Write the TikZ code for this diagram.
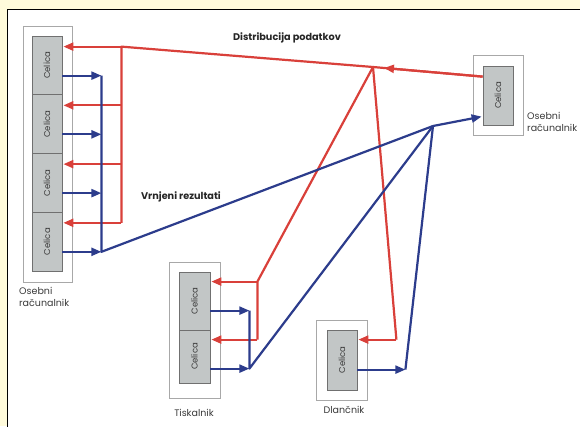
\documentclass[tikz,border=0pt]{standalone}
\usepackage{fontspec}
\setmainfont{Poppins}
\usetikzlibrary{arrows.meta,calc}
\definecolor{bgyellow}{HTML}{FFFBDB}
\definecolor{rcol}{HTML}{D9403A}
\definecolor{bcol}{HTML}{2C3C8C}
\definecolor{cellfill}{HTML}{C2C6C6}
\definecolor{celldraw}{HTML}{707070}
\definecolor{boxdraw}{HTML}{A8A8A8}
\definecolor{txt}{HTML}{3A3A3A}
\begin{document}
\begin{tikzpicture}[x=1pt,y=-1pt,
  outerbox/.style={draw=boxdraw,fill=white,line width=0.9pt,inner sep=0pt,minimum width=50},
  cellbox/.style={draw=celldraw,fill=cellfill,line width=0.8pt,inner sep=0pt,minimum width=30,
     font=\fontsize{8.5}{9}\selectfont,text=txt},
  rl/.style={draw=rcol,line width=2.2pt,line join=round},
  bl/.style={draw=bcol,line width=2.2pt,line join=round},
  tip/.style={-{Triangle[length=10pt,width=8pt]}},
  lbl/.style={font=\fontsize{9.5}{12}\selectfont,text=txt,align=left,inner sep=0pt},
  ttl/.style={font=\bfseries\fontsize{9.7}{11}\selectfont,text=black!85,inner sep=0pt}]
\fill[bgyellow] (0,0) rectangle (580,426);
\useasboundingbox (0,0) rectangle (580,426);
\begin{scope}
\clip (0,0) rectangle (580,426);
\fill[white] (7,9) rectangle (600,450);
\draw[black,line width=1pt] (7,450) -- (7,9) -- (600,9);
\end{scope}
% junctions
\coordinate (R) at (373,67);
\coordinate (B) at (433,126);
% left computer
\node[outerbox,minimum width=49,minimum height=256] (pcL) at (47.5,154) {};
\node[cellbox,minimum height=58.75] (L1) at (47,65.4) {\rotatebox{90}{Celica}};
\node[cellbox,minimum height=58.75] (L2) at (47,124.1) {\rotatebox{90}{Celica}};
\node[cellbox,minimum height=58.75] (L3) at (47,182.9) {\rotatebox{90}{Celica}};
\node[cellbox,minimum height=58.75] (L4) at (47,241.6) {\rotatebox{90}{Celica}};
% right computer
\node[outerbox,minimum width=50,minimum height=80] (pcR) at (498,95) {};
\node[cellbox,minimum height=59] (P) at (498,95.5) {\rotatebox{90}{Celica}};
% printer
\node[outerbox,minimum width=51,minimum height=136] (prn) at (194.5,330) {};
\node[cellbox,minimum width=31,minimum height=58] (T1) at (194.5,301) {\rotatebox{90}{Celica}};
\node[cellbox,minimum width=31,minimum height=53] (T2) at (194.5,356.5) {\rotatebox{90}{Celica}};
% handheld
\node[outerbox,minimum width=51,minimum height=80] (pda) at (341.5,360) {};
\node[cellbox,minimum height=60] (D) at (342,360) {\rotatebox{90}{Celica}};
% labels
\node[lbl,anchor=north west] (labL) at (19,287) {Osebni\\računalnik};
\node[lbl,anchor=north west] (labR) at (527,112) {Osebni\\računalnik};
\node[lbl] (labT) at (194,413) {Tiskalnik};
\node[lbl] (labD) at (344,410) {Dlančnik};
\node[ttl] (dist) at (287,38) {Distribucija podatkov};
\node[ttl] (vrn) at (181,197) {Vrnjeni rezultati};
% ---- red distribution ----
\draw[rl] (P.north west) ++(0,11) coordinate (pr) -- (R);
\draw[rl,tip] (pr) -- ($(pr)!0.9!(R)$);
\foreach \c in {L1,L2,L3,L4}{
  \draw[rl,tip] ($(\c.north east)+(59,11)$) -- ($(\c.north east)+(1,11)$);
}
\draw[rl] ($(L4.north east)+(59,11)$) -- ($(L1.north east)+(59,11)$) -- (R);
\foreach \c in {T1,T2}{
  \draw[rl,tip] ($(\c.north east)+(47,10)$) -- ($(\c.north east)+(1,10)$);
}
\draw[rl] ($(T2.north east)+(47,10)$) -- ($(T1.north east)+(47,10)$) -- (R);
\draw[rl] (R) -- ($(D.north east)+(39,10)$);
\draw[rl,tip] ($(D.north east)+(39,10)$) -- ($(D.north east)+(1,10)$);
% ---- blue results ----
\foreach \c in {L1,L2,L3,L4}{
  \draw[bl,tip] ($(\c.north east)+(0,40)$) -- ($(\c.north east)+(39,40)$);
}
\draw[bl] ($(L1.north east)+(39,40)$) -- ($(L4.north east)+(39,40)$) -- (B);
\foreach \c in {T1,T2}{
  \draw[bl,tip] ($(\c.north east)+(0,39)$) -- ($(\c.north east)+(39,39)$);
}
\draw[bl] ($(T1.north east)+(39,39)$) -- ($(T2.north east)+(39,39)$) -- (B);
\draw[bl,tip] ($(D.north east)+(0,40)$) -- ($(D.north east)+(48,40)$);
\draw[bl] ($(D.north east)+(48,40)$) -- (B);
\draw[bl,tip] (B) -- ($(P.north west)+(-1,51)$);
\end{tikzpicture}
\end{document}
